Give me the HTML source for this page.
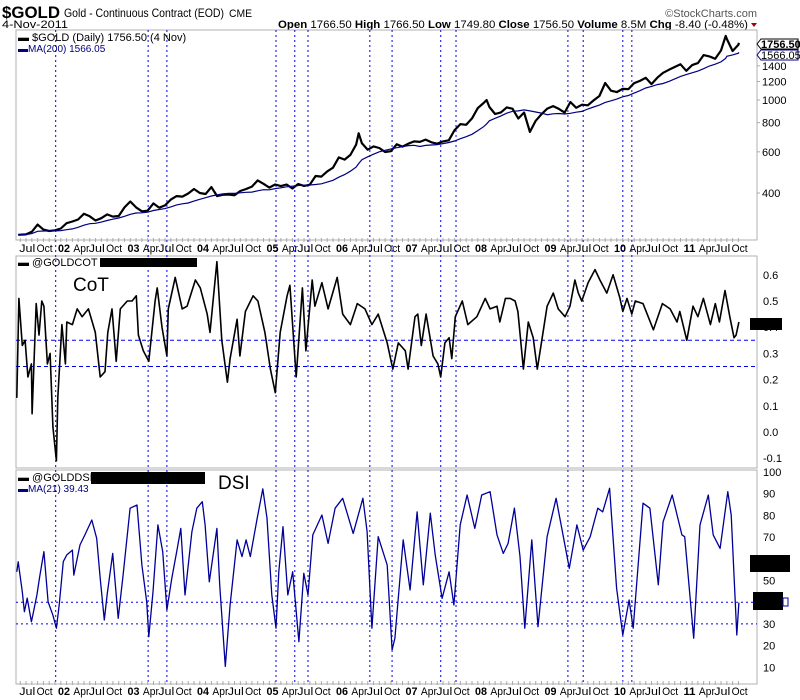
<!DOCTYPE html>
<html><head><meta charset="utf-8"><style>
html,body{margin:0;padding:0;background:#fff}
svg{display:block;font-family:"Liberation Sans",sans-serif}
</style></head><body>
<svg id="chart" width="800" height="700" xmlns="http://www.w3.org/2000/svg">
<g>
<text x="2" y="18" font-size="17" font-weight="bold" textLength="58" lengthAdjust="spacingAndGlyphs">$GOLD</text>
<text x="64" y="17" font-size="12" textLength="160" lengthAdjust="spacingAndGlyphs">Gold - Continuous Contract (EOD)</text>
<text x="229" y="17" font-size="11" textLength="23" lengthAdjust="spacingAndGlyphs">CME</text>
<text x="757" y="17" font-size="11" fill="#555" text-anchor="end">©StockCharts.com</text>
<text x="2" y="28" font-size="11" textLength="66" lengthAdjust="spacingAndGlyphs">4-Nov-2011</text>
<text x="278" y="28" font-size="11" textLength="470" lengthAdjust="spacingAndGlyphs"><tspan font-weight="bold">Open</tspan> 1766.50 <tspan font-weight="bold">High</tspan> 1766.50 <tspan font-weight="bold">Low</tspan> 1749.80 <tspan font-weight="bold">Close</tspan> 1756.50 <tspan font-weight="bold">Volume</tspan> 8.5M <tspan font-weight="bold">Chg</tspan> -8.40 (-0.48%)</text>
<path d="M751,23 l6,0 l-3,4z" fill="#a00"/>
</g>
<g id="panels"></g>
</svg>
<script>
// ---- data ----
const goldStart = 2001.583; // end of Jul 2001
const goldValues = [266,273,293,279,275,277,
282,297,302,308,326,318,305,312,324,317,319,347,
368,347,334,336,361,346,354,375,388,386,398,416,
400,396,424,388,393,394,391,408,416,426,453,438,
422,435,428,435,418,437,429,434,473,470,495,513,
568,556,582,644,653,613,633,623,599,604,646,632,
650,665,662,677,659,650,665,672,743,789,783,834,
923,971,933,871,885,930,918,833,884,730,815,869,
919,942,916,883,980,926,955,949,996,1040,1182,1096,
1081,1116,1113,1180,1207,1245,1169,1246,1307,1346,1384,1421,
1333,1410,1439,1556,1536,1500,1628,1825,1620,1722,1756];
const goldExtraDates = [2006.37, 2008.21, 2011.65];
const goldExtraValues = [720, 1000, 1880];
const priceTicks = [400,600,800,1000,1200,1400];

const cotDates = [2001.45,2001.48,2001.53,2001.57,2001.61,2001.66,2001.67,2001.73,2001.77,2001.81,2001.84,2001.89,2001.93,2001.97,2002.02,2002.04,2002.10,2002.15,2002.17,2002.25,2002.32,2002.39,2002.48,2002.58,2002.65,2002.72,2002.76,2002.82,2002.88,2002.94,2003.04,2003.11,2003.17,2003.20,2003.27,2003.35,2003.44,2003.47,2003.54,2003.61,2003.63,2003.73,2003.83,2003.90,2004.02,2004.09,2004.19,2004.23,2004.33,2004.40,2004.48,2004.52,2004.62,2004.66,2004.74,2004.85,2004.92,2005.02,2005.10,2005.17,2005.24,2005.34,2005.38,2005.47,2005.56,2005.61,2005.70,2005.74,2005.84,2005.93,2006.06,2006.14,2006.25,2006.35,2006.46,2006.56,2006.65,2006.78,2006.86,2006.94,2007.04,2007.08,2007.18,2007.22,2007.27,2007.34,2007.44,2007.51,2007.55,2007.61,2007.67,2007.71,2007.76,2007.86,2007.94,2008.07,2008.19,2008.26,2008.36,2008.40,2008.48,2008.55,2008.62,2008.66,2008.74,2008.81,2008.88,2008.94,2009.01,2009.08,2009.17,2009.24,2009.34,2009.41,2009.48,2009.53,2009.58,2009.67,2009.77,2009.84,2009.94,2010.03,2010.13,2010.17,2010.23,2010.30,2010.35,2010.46,2010.61,2010.74,2010.85,2010.95,2010.99,2011.09,2011.18,2011.25,2011.33,2011.43,2011.50,2011.56,2011.64,2011.71,2011.77,2011.80,2011.84];
const cotValues = [.13,.51,.33,.35,.21,.26,.07,.49,.37,.50,.48,.26,.30,.02,-.11,.13,.41,.26,.42,.41,.47,.44,.47,.38,.21,.23,.38,.47,.27,.47,.50,.50,.52,.37,.31,.27,.50,.55,.40,.29,.47,.59,.47,.48,.58,.55,.45,.38,.65,.35,.19,.28,.43,.29,.46,.52,.50,.38,.24,.15,.38,.52,.56,.21,.55,.31,.58,.48,.57,.47,.59,.45,.41,.49,.47,.41,.45,.34,.24,.34,.31,.24,.44,.45,.33,.45,.29,.26,.21,.34,.36,.28,.44,.50,.41,.44,.51,.47,.48,.42,.51,.51,.50,.46,.24,.42,.36,.24,.36,.48,.53,.47,.44,.48,.58,.53,.50,.57,.62,.58,.53,.60,.51,.46,.51,.45,.50,.49,.39,.49,.47,.42,.46,.35,.48,.44,.51,.41,.49,.42,.54,.44,.36,.37,.42];
const cotTicks = [-0.1,0,0.1,0.2,0.3,0.4,0.5,0.6];
const cotLevels = [0.35,0.25];

const dsiDates = [2001.45,2001.47,2001.53,2001.56,2001.60,2001.66,2001.68,2001.74,2001.78,2001.84,2001.90,2001.97,2002.02,2002.06,2002.12,2002.17,2002.25,2002.27,2002.36,2002.43,2002.53,2002.60,2002.65,2002.71,2002.75,2002.83,2002.91,2002.98,2003.08,2003.18,2003.25,2003.32,2003.35,2003.41,2003.48,2003.55,2003.61,2003.68,2003.76,2003.81,2003.87,2003.97,2004.04,2004.12,2004.16,2004.22,2004.33,2004.37,2004.45,2004.52,2004.62,2004.69,2004.75,2004.81,2004.91,2004.99,2005.05,2005.12,2005.18,2005.22,2005.28,2005.35,2005.42,2005.51,2005.58,2005.64,2005.71,2005.84,2005.93,2006.03,2006.14,2006.29,2006.43,2006.49,2006.56,2006.65,2006.78,2006.85,2006.89,2007.01,2007.11,2007.21,2007.30,2007.40,2007.47,2007.57,2007.67,2007.74,2007.83,2007.93,2008.04,2008.14,2008.26,2008.36,2008.45,2008.52,2008.61,2008.69,2008.76,2008.86,2008.95,2009.08,2009.21,2009.31,2009.40,2009.51,2009.60,2009.70,2009.81,2009.88,2009.98,2010.08,2010.17,2010.26,2010.32,2010.46,2010.56,2010.68,2010.75,2010.88,2011.02,2011.06,2011.19,2011.28,2011.40,2011.47,2011.57,2011.68,2011.73,2011.81,2011.84];
const dsiValues = [54,58.6,44.8,35.6,41.9,31,34,43.3,51.8,63.3,40.2,34,28,38.7,58.7,61.8,64,52.5,66.4,71,77.9,69.4,51,31.8,43.3,62.5,32.6,52.5,83.3,84.8,57.1,40.2,24.1,44.8,75.6,63.3,36.4,51,64.8,74,43.3,72.5,83.3,86.3,75.6,49.4,74,48,10.4,38.7,68.7,61,68.7,61,78.7,92.2,78.7,43.3,28,54,74.8,43.3,54,21.8,53.3,43.3,71,80.2,67.1,83.3,87.9,71.7,87.9,72.5,28,70.2,57.1,18,23.4,68.7,45.6,81.6,48,81,61.8,41.8,54,38.7,75.6,89.4,74,89.4,90.9,71,62.5,67.1,83.3,61,28,68.7,28.7,70.2,87.9,71,55.6,75.6,64,70.2,83.3,81.6,92.5,46.4,24.9,41,28,85.6,83.3,48,77.1,89.4,71,70.2,23.4,75.6,89.4,71,64.8,90.9,80.2,24.9,39.8];
const dsiTicks = [10,20,30,40,50,60,70,80,90,100];
const dsiLevels = [40,30];

const markerDates = [2002.01,2003.34,2003.61,2005.18,2005.45,2005.64,2006.53,2006.85,2007.55,2007.77,2009.38,2009.60,2010.17,2010.30];
const axisYears = [2002,2003,2004,2005,2006,2007,2008,2009,2010,2011];

// ---- scales ----
const L=16, R=757;
const xS = t => 55 + (t-2002)*69.5;
const yPrice = p => 193 - 101.5*Math.log(p/400);
const yCot = v => 432 - 262*v;
const yDsi = v => 472 + (100-v)*2.17;
const P1={top:30,bot:240}, P2={top:256,bot:468}, P3={top:470,bot:684};

const NS="http://www.w3.org/2000/svg";
const root=document.getElementById('panels');
function mk(tag, attrs, parent){const e=document.createElementNS(NS,tag);for(const k in attrs)e.setAttribute(k,attrs[k]);(parent||root).appendChild(e);return e;}
function txt(x,y,s,attrs,parent){const e=mk('text',Object.assign({x:x,y:y,'font-size':11},attrs),parent);e.textContent=s;return e;}
function pathFrom(xs,ys){return xs.map((x,i)=>(i?'L':'M')+x.toFixed(1)+','+ys[i].toFixed(1)).join('');}

[P1,P2,P3].forEach((p,i)=>{
  const r=mk('rect',{x:L,y:p.top,width:R-L,height:p.bot-p.top,fill:'none',stroke:'#b0b0b0','stroke-width':1});
  
  
});

markerDates.forEach(d=>{
  const ln=mk('line',{x1:xS(d),x2:xS(d),y1:P1.top,y2:P3.bot,stroke:'#0000ee','stroke-width':1,'stroke-dasharray':'2,3'});
  
  
});

function dateAxis(y){
  const g=mk('g',{'font-size':11});
  
  
  const lab=(x,s,a)=>txt(x,y,s,Object.assign({textLength:s.length===2?12:16,lengthAdjust:'spacingAndGlyphs'},a||{}),g);
  lab(xS(2001.5)-1,'Jul');
  lab(xS(2001.75)-1,'Oct');
  axisYears.forEach(yr=>{
    lab(xS(yr)+3,String(yr).slice(2),{'font-weight':'bold'});
    lab(xS(yr+0.25)+1,'Apr');
    lab(xS(yr+0.5)-1,'Jul');
    lab(xS(yr+0.75)-1,'Oct');
  });
  for(let m=0;m<125;m++){
    const t=2001.5+m/12; const x=xS(t); if(x<L||x>R)continue;
    const tk=mk('line',{x1:x,x2:x,y1:y-10,y2:y-14,stroke:'#aaa'},g);
    
    
  }
}
dateAxis(252);
dateAxis(695);

// ---- price panel ----
let gd=goldValues.map((v,i)=>({t:goldStart+i/12,v:v}));
if(gd.length) gd[gd.length-1].t=2011.84;
goldExtraDates.forEach((d,i)=>gd.push({t:d,v:goldExtraValues[i]}));
gd.sort((a,b)=>a.t-b.t);
gd.unshift({t:2001.47,v:265});
const gp=mk('path',{d:pathFrom(gd.map(p=>xS(p.t)),gd.map(p=>yPrice(p.v))),fill:'none',stroke:'#000','stroke-width':2.2,'stroke-linejoin':'round'});


const maX=[],maY=[];
gd.forEach((p)=>{const w=gd.filter(q=>q.t<=p.t&&q.t>p.t-0.8);const m=w.reduce((s,q)=>s+q.v,0)/w.length;maX.push(xS(p.t));maY.push(yPrice(m));});
const mp=mk('path',{d:pathFrom(maX,maY),fill:'none',stroke:'#000080','stroke-width':1.2});


priceTicks.forEach(v=>{
  const t=txt(762,yPrice(v)+4,String(v),{});
  
  
  const tk=mk('line',{x1:R,x2:R+3,y1:yPrice(v),y2:yPrice(v),stroke:'#aaa'});
  
  
});
const b1=mk('path',{d:'M757,44 l4,-5 h37 v10 h-37z',fill:'#fff',stroke:'#000'});


const b1t=txt(761,48,'1756.50',{'font-weight':'bold'});


const b2=mk('path',{d:'M757,55 l4,-5 h37 v10 h-37z',fill:'#fff',stroke:'#000080'});


const b2t=txt(761,59,'1566.05',{});


const lg1=txt(18,41,'▬ $GOLD (Daily) 1756.50 (4 Nov)',{});


const lg2=txt(18,52,'▬MA(200) 1566.05',{fill:'#000080','font-size':10});



// ---- CoT panel ----
cotLevels.forEach(v=>{
  const ln=mk('line',{x1:L,x2:R,y1:yCot(v),y2:yCot(v),stroke:'#0000ee','stroke-dasharray':'4,3'});
  
  
});
const cp=mk('path',{d:pathFrom(cotDates.map(xS),cotValues.map(yCot)),fill:'none',stroke:'#000','stroke-width':1.6,'stroke-linejoin':'round'});


cotTicks.forEach(v=>{
  const t=txt(763,yCot(v)+4,v.toFixed(1),{});
  
  
});
const cl=txt(18,266,'▬ @GOLDCOT',{});


const cr=mk('rect',{x:100,y:258,width:97,height:9,fill:'#000'});


const ct=txt(73,291,'CoT',{'font-size':19});


const cm=mk('rect',{x:750,y:318,width:32,height:12,fill:'#000'});



// ---- DSI panel ----
dsiLevels.forEach(v=>{
  const ln=mk('line',{x1:L,x2:R,y1:yDsi(v),y2:yDsi(v),stroke:'#0000ee','stroke-dasharray':'2,3'});
  
  
});
const dp=mk('path',{d:pathFrom(dsiDates.map(xS),dsiValues.map(yDsi)),fill:'none',stroke:'#000099','stroke-width':1.3,'stroke-linejoin':'round'});


dsiTicks.forEach(v=>{
  const t=txt(763,yDsi(v)+4,String(v),{});
  
  
});
const dl=txt(18,481,'▬ @GOLDDSI',{});


const dl2=txt(18,492,'▬MA(21) 39.43',{fill:'#000080','font-size':10});


const dr=mk('rect',{x:91,y:472,width:114,height:12,fill:'#000'});


const dt=txt(218,489,'DSI',{'font-size':19});


const dm1=mk('rect',{x:750,y:555,width:40,height:17,fill:'#000'});


const dm2=mk('rect',{x:753,y:592,width:30,height:18,fill:'#000'});


const dm3=mk('rect',{x:783,y:598,width:5,height:8,fill:'#fff',stroke:'#000099'});


</script>
</body></html>
